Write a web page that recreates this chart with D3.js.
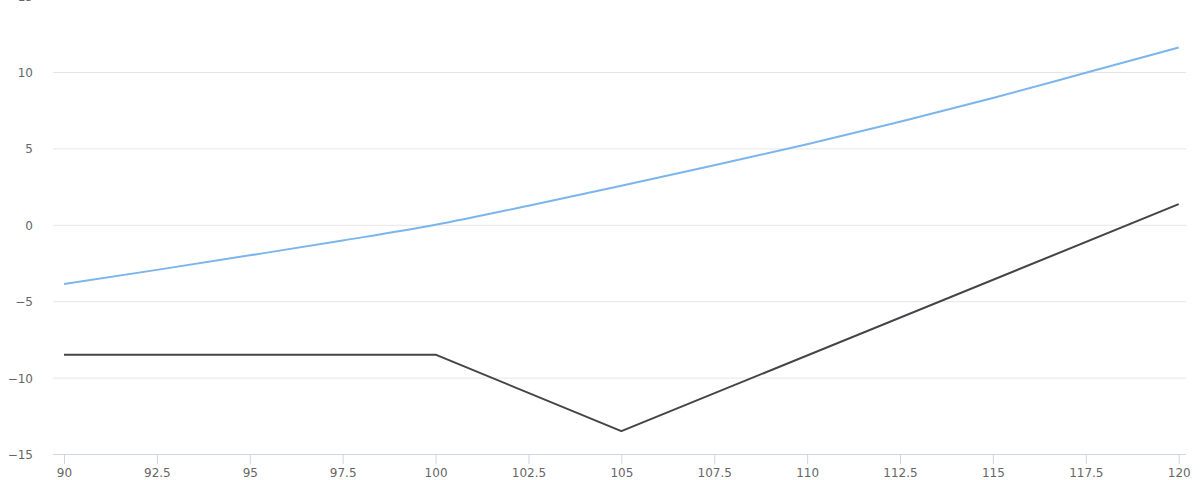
<!DOCTYPE html>
<html>
<head>
<meta charset="utf-8">
<script src="https://cdn.jsdelivr.net/npm/d3@7"></script>
<style>
html,body{margin:0;padding:0;background:#fff;}
svg{display:block;}
svg text{font-family:"DejaVu Sans","Lucida Grande",Arial,Helvetica,sans-serif !important;}
</style>
</head>
<body>
<svg id="chart" width="1200" height="480"></svg>
<script>
const xTicks = [90, 92.5, 95, 97.5, 100, 102.5, 105, 107.5, 110, 112.5, 115, 117.5, 120];
const yTicks = [-15, -10, -5, 0, 5, 10, 15];
const blueX = [90, 92.5, 95, 97.5, 100, 102.5, 105, 107.5, 110, 112.5, 115, 117.5, 120];
const blueY = [-3.88, -2.95, -2.0, -1.03, 0, 1.25, 2.55, 3.9, 5.27, 6.75, 8.3, 9.95, 11.6];
const darkX = [90, 100, 105, 120];
const darkY = [-8.5, -8.5, -13.5, 1.35];

const svg = d3.select("#chart");
const plotLeft = 53, plotRight = 1186;
const x = d3.scaleLinear().domain([90, 120]).range([64, 1178.7]);
const y = d3.scaleLinear().domain([-15, 15]).range([454, -4.4]);
const fmtMinus = v => (v < 0 ? "\u2212" + Math.abs(v) : String(v));

// grid lines
const yAxis = d3.axisLeft(y).tickValues(yTicks).tickSize(-(plotRight - plotLeft)).tickFormat(fmtMinus);
const gy = svg.append("g").attr("transform", `translate(${plotLeft},0)`).call(yAxis);
gy.attr("font-family", null);
gy.select(".domain").remove();
gy.selectAll(".tick line").attr("stroke", "#e6e6e6").attr("stroke-width", 1);
gy.selectAll(".tick text").attr("fill", "#666666").style("font-size", "12px").attr("x", -20).attr("dy", "0.38em");

// x axis
const xAxis = d3.axisBottom(x).tickValues(xTicks).tickSize(10).tickSizeOuter(0).tickFormat(d => String(d)).tickPadding(4);
const gx = svg.append("g").attr("transform", `translate(0,454)`).call(xAxis);
gx.attr("font-family", null);
gx.select(".domain").attr("d", `M${plotLeft},0.5H${plotRight}`).attr("stroke", "#ccd6eb");
gx.selectAll(".tick line").attr("stroke", "#ccd6eb");
gx.selectAll(".tick text").attr("fill", "#666666").style("font-size", "12px");
gy.selectAll(".tick").filter(d => d === -15).select("line").attr("stroke", "none");

const blueData = blueX.map((v, i) => [v, blueY[i]]);
const darkData = darkX.map((v, i) => [v, darkY[i]]);

svg.append("path").datum(darkData)
  .attr("fill", "none").attr("stroke", "#434348").attr("stroke-width", 2).attr("stroke-linejoin", "round")
  .attr("d", d3.line().x(d => x(d[0])).y(d => y(d[1])));

svg.append("path").datum(blueData)
  .attr("fill", "none").attr("stroke", "#7cb5ec").attr("stroke-width", 2).attr("stroke-linejoin", "round")
  .attr("d", d3.line().curve(d3.curveMonotoneX).x(d => x(d[0])).y(d => y(d[1])));
</script>
</body>
</html>
